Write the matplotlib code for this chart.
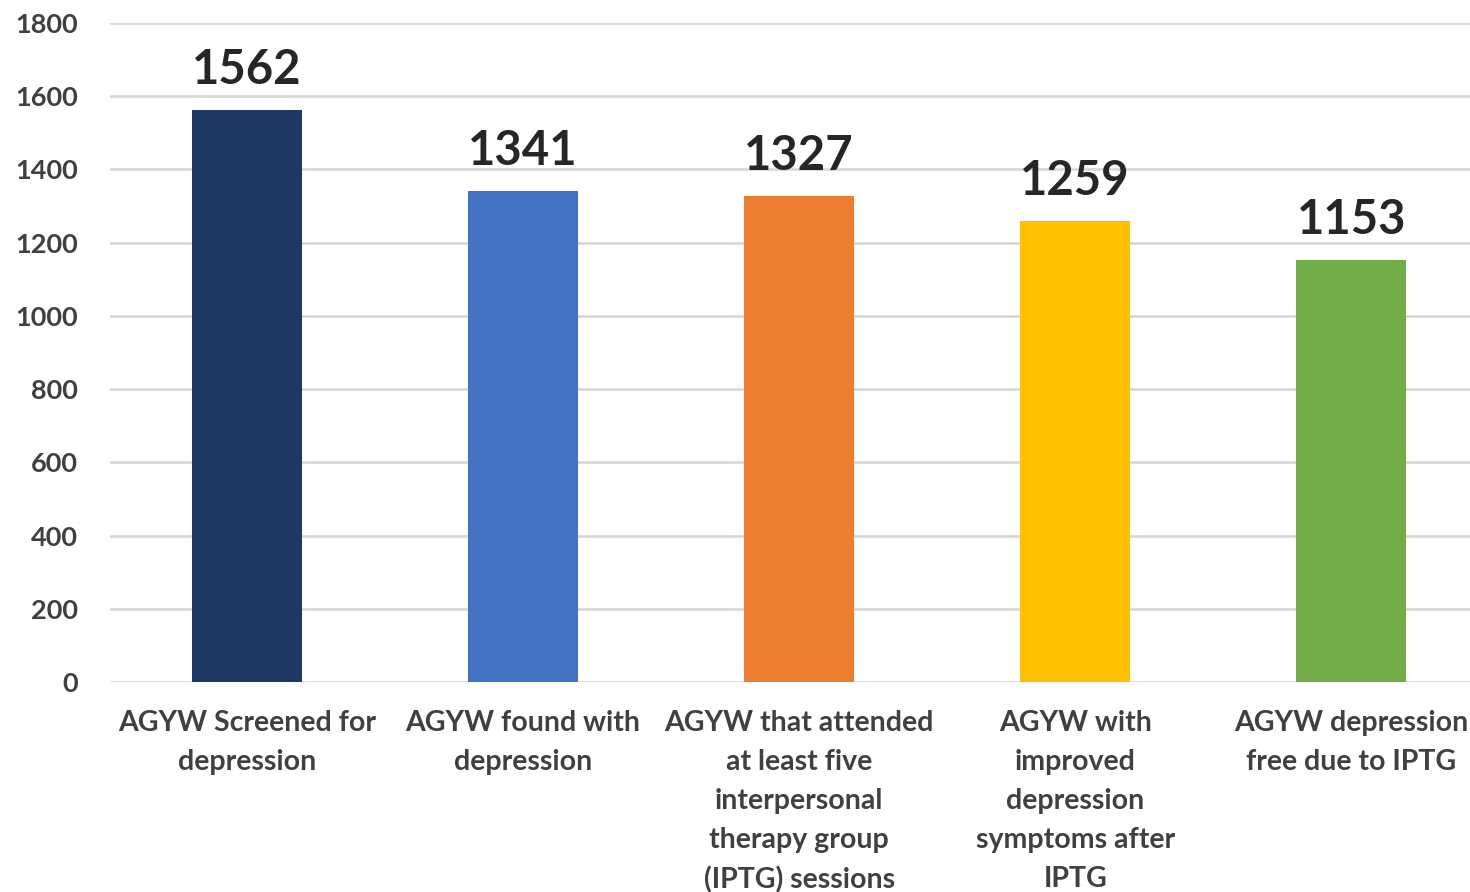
import matplotlib.pyplot as plt
import numpy as np

categories = [
    "AGYW Screened for\ndepression",
    "AGYW found with\ndepression",
    "AGYW that attended\nat least five\ninterpersonal\ntherapy group\n(IPTG) sessions",
    "AGYW with\nimproved\ndepression\nsymptoms after\nIPTG",
    "AGYW depression\nfree due to IPTG",
]
values = [1562, 1341, 1327, 1259, 1153]
colors = ["#203864", "#4472C4", "#ED7D31", "#FFC000", "#70AD47"]
yticks = [0, 200, 400, 600, 800, 1000, 1200, 1400, 1600, 1800]

plt.rcParams['font.family'] = ['Lato', 'DejaVu Sans']

fig = plt.figure(figsize=(14.7, 8.92), dpi=100)
ax = fig.add_axes([0.0748, 0.2354, 0.9252, 0.7388])

x = np.arange(len(values))
bars = ax.bar(x, values, width=0.40, color=colors, zorder=3)

for xi, v in zip(x, values):
    ax.annotate(str(v), (xi, v), xytext=(0, 13), textcoords='offset points',
                ha='center', va='bottom', fontsize=34, fontweight='bold', color='#262626')

ax.set_ylim(0, 1800)
ax.set_xlim(-0.496, 4.43)
ax.set_yticks(yticks)
ax.set_yticklabels([str(t) for t in yticks], fontsize=19.5, fontweight='bold', color='#404040')
ax.set_xticks(x)
ax.set_xticklabels(categories, fontsize=20.5, fontweight='bold', color='#404040',
                   linespacing=1.62, va='top')
ax.tick_params(axis='both', length=0)
ax.tick_params(axis='x', pad=20)
ax.tick_params(axis='y', pad=23)
for lbl in ax.get_yticklabels():
    lbl.set_horizontalalignment('right')

ax.grid(axis='y', color='#d9d9d9', linewidth=2, zorder=0)
for s in ax.spines.values():
    s.set_visible(False)

fig.savefig('out.png', dpi=100)
